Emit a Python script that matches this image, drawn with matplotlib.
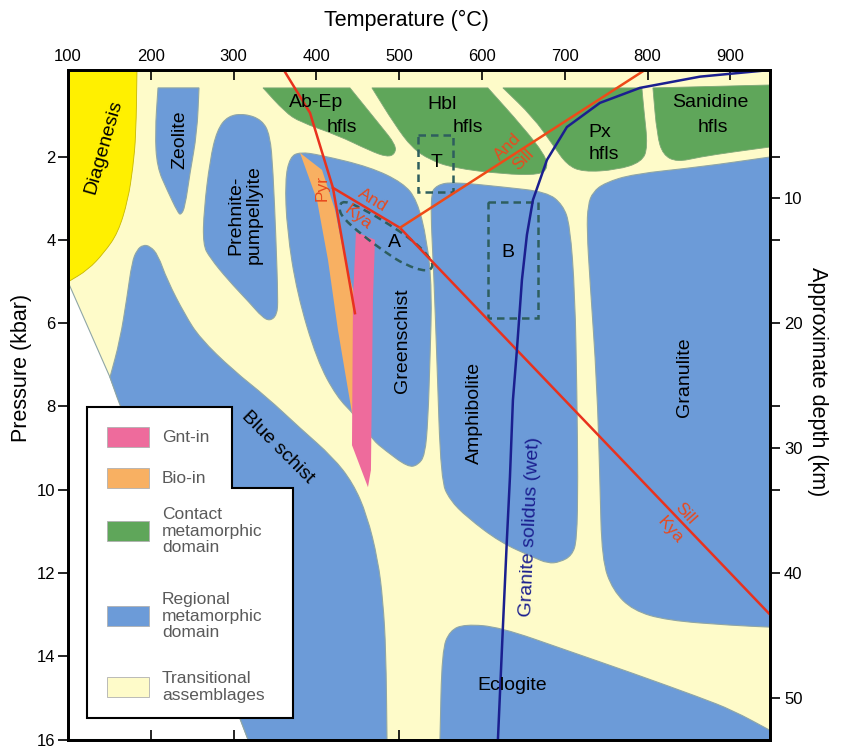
"""Metamorphic facies P-T diagram (temperature on top, pressure down, depth on right)."""
import matplotlib

matplotlib.use("Agg")
import matplotlib.pyplot as plt  # noqa: E402
from matplotlib.patches import PathPatch, Polygon, Rectangle  # noqa: E402
from matplotlib.path import Path  # noqa: E402

plt.rcParams["font.family"] = ["Liberation Sans", "DejaVu Sans"]

# ---- field outlines: temperature (degC) and pressure (kbar) ------------------
DIAG_T = [100, 183.3, 182.1, 178.5, 172.5, 160.4, 143.5, 124.2, 100]
DIAG_P = [-0.08, -0.08, 1.48, 2.25, 3.04, 3.83, 4.31, 4.72, 5.01]

OUTSIDE_T = [100, 150.7, 317.4, 100]           # white, outside the diagram
OUTSIDE_P = [5.01, 7.30, 16.0, 16.0]

ZEOL_T = [208.7, 258.2, 255.8, 247.3, 241.3, 236.5, 232.8, 219.6, 207.5, 205.1]
ZEOL_P = [0.35, 0.35, 1.43, 2.39, 3.21, 3.40, 3.35, 2.80, 2.25, 1.43]

PREH_T = [293.2, 313.8, 334.3, 344.0, 347.6, 351.2, 353.6, 352.4, 344.0, 334.3,
          319.8, 293.2, 271.5, 263.0, 264.2, 271.5, 280.0]
PREH_P = [1.02, 0.97, 1.12, 1.48, 2.32, 4.00, 5.44, 5.80, 5.95, 5.85,
          5.52, 4.96, 4.43, 4.12, 3.28, 2.08, 1.36]

BLUESCH_T = [190.6, 199.0, 208.7, 219.6, 241.3, 259.4, 299.3, 340.3, 380.2, 420.0,
             444.2, 461.1, 474.4, 480.4, 484.0, 485.3, 317.4, 159.2, 150.7, 162.8,
             171.3, 177.3, 183.3]
BLUESCH_P = [4.12, 4.15, 4.36, 4.96, 5.80, 6.36, 7.13, 7.78, 8.52, 9.22,
             9.84, 10.61, 11.69, 12.66, 13.86, 16.0, 16.0, 7.78, 7.30, 6.41,
             5.37, 4.53, 4.24]

GREENSCH_T = [368.1, 380.2, 404.3, 464.7, 504.6, 521.5, 533.6, 539.6, 537.2, 534.8,
              531.2, 522.7, 510.6, 482.8, 468.3, 446.6, 424.9, 400.7, 376.6, 364.5,
              362.1]
GREENSCH_P = [2.01, 1.89, 1.96, 2.25, 2.63, 3.04, 4.00, 5.20, 6.89, 8.33,
              9.17, 9.41, 9.46, 9.05, 8.81, 8.21, 7.78, 6.89, 5.28, 3.76,
              2.56]

AMPH_T = [537.2, 545.6, 565.0, 625.3, 678.5, 697.8, 706.3, 712.3, 714.7, 715.9,
          714.7, 708.7, 694.2, 679.7, 661.6, 621.7, 581.9, 561.3, 550.5, 545.6, 542.0]
AMPH_P = [2.92, 2.68, 2.61, 2.73, 2.85, 3.16, 3.64, 5.28, 7.69, 9.78,
          11.22, 11.58, 11.74, 11.77, 11.62, 11.26, 10.66, 10.25, 9.78, 6.89, 4.89]

GRAN_T = [728.0, 734.0, 748.5, 782.4, 863.3, 948, 948, 903.1, 823.4, 782.4,
          758.2, 744.9, 742.5, 738.9, 730.4, 726.8]
GRAN_P = [3.16, 2.85, 2.63, 2.42, 2.25, 2.01, 13.30, 13.26, 13.14, 12.90,
          12.42, 11.69, 9.77, 7.44, 4.96, 3.76]

ECLO_T = [549.3, 551.7, 561.3, 579.5, 621.7, 702.6, 782.4, 863.3, 903.1, 948, 948]
ECLO_P = [16.0, 13.86, 13.38, 13.23, 13.30, 13.86, 14.41, 14.99, 15.30, 15.78, 16.0]

ABEP_T = [335.5, 440.6, 476.8, 496.1, 494.9, 485.3, 464.7, 424.9, 380.2, 362.1]
ABEP_P = [0.35, 0.35, 1.24, 1.72, 1.94, 2.01, 1.86, 1.48, 1.17, 0.93]

HBL_T = [467.1, 607.2, 649.5, 676.1, 679.7, 670.0, 625.3, 565.0, 537.2, 515.5, 494.9]
HBL_P = [0.35, 0.35, 1.29, 1.96, 2.27, 2.44, 2.42, 2.27, 2.08, 1.79, 1.24]

PX_T = [625.3, 793.2, 795.6, 800.4, 793.2, 763.0, 722.0, 702.6, 685.7, 661.6]
PX_P = [0.35, 0.35, 0.88, 1.77, 2.13, 2.32, 2.37, 2.20, 1.72, 1.05]

SAN_T = [806.5, 948, 948, 903.1, 863.3, 835.5, 818.6, 811.4]
SAN_P = [0.35, 0.28, 1.77, 1.89, 2.01, 2.13, 1.96, 1.48]

BIO_T = [380.2, 406.8, 422.5, 434.5, 447.8, 447.8, 443.0, 426.1, 414.0, 400.7]
BIO_P = [1.91, 2.32, 3.28, 4.48, 5.45, 8.16, 8.16, 6.17, 4.48, 3.04]

GNT_T = [447.8, 470.8, 468.3, 465.9, 462.3, 443.0, 444.2]
GNT_P = [3.81, 4.00, 5.44, 9.53, 9.94, 8.93, 5.44]

# ---- reaction lines ----------------------------------------------------------
PYR_T = [359.7, 392.3, 420.0, 446.6]
PYR_P = [-0.11, 0.95, 2.75, 5.76]
AND_KYA_SILL_T = [420.0, 500.9, 948]
AND_KYA_SILL_P = [2.75, 3.71, 13.0]
AND_SILL_T = [500.9, 796.8]
AND_SILL_P = [3.71, -0.08]
SOLIDUS_T = [619.3, 625.3, 630.1, 633.8, 637.4, 642.2, 648.3, 654.3, 661.6, 678.5,
             702.6, 742.5, 790.8, 863.3, 948]
SOLIDUS_P = [16.0, 13.30, 11.21, 9.70, 7.85, 6.65, 4.96, 3.88, 3.04, 2.08,
             1.29, 0.71, 0.35, 0.08, -0.08]

# dashed outlines (boxes T, B and the ellipse A)
BOX_T_T = [522.7, 565.0]
BOX_T_P = [1.48, 2.85]
BOX_B_T = [607.2, 667.6]
BOX_B_P = [3.09, 5.88]
ELL_A_T = [432.1, 458.7, 488.9, 515.5, 534.8, 542.0, 533.6, 507.0, 482.8, 455.1, 431.7, 426.8]
ELL_A_P = [3.04, 3.28, 3.64, 4.00, 4.36, 4.63, 4.77, 4.60, 4.29, 3.88, 3.47, 3.23]

T_TICKS = [100, 200, 300, 400, 500, 600, 700, 800, 900]
P_TICKS = [2, 4, 6, 8, 10, 12, 14, 16]
DEPTH_KM = [10, 20, 30, 40, 50]

LEGEND_ITEMS = ["Gnt-in", "Bio-in", "Contact\nmetamorphic\ndomain",
                "Regional\nmetamorphic\ndomain", "Transitional\nassemblages"]

YEL_BG = "#FEFBC9"
BLUE = "#6C9BD8"
GREEN = "#5FA65A"
DIAG = "#FFF000"
PINK = "#EE6B9C"
ORANGE = "#F8B062"
RED = "#E8321E"
RED_TXT = "#E84A1E"
NAVY = "#1B1F8F"
DASH = "#2E5E5E"
EDGE = "#8FA6A6"


def field(ax, t, p, sharp=(), **kw):
    """Closed field outline drawn as a quadratic spline through the edge midpoints;
    vertices listed in `sharp` stay as hard corners."""
    pts = list(zip(t, p))
    n = len(pts)
    mids = [((pts[i][0] + pts[(i + 1) % n][0]) / 2,
             (pts[i][1] + pts[(i + 1) % n][1]) / 2) for i in range(n)]
    verts, codes = [mids[-1]], [Path.MOVETO]
    for i in range(n):
        verts += [pts[i], mids[i]]
        code = Path.LINETO if i in sharp else Path.CURVE3
        codes += [code, code]
    verts.append(mids[-1])
    codes.append(Path.CLOSEPOLY)
    ax.add_patch(PathPatch(Path(verts, codes), **kw))


fig = plt.figure(figsize=(8.45, 7.47), dpi=100)
ax = fig.add_axes([0.0805, 0.0100, 0.8308, 0.8963])
ax.set_xlim(100, 948)
ax.set_ylim(16, -0.08)
ax.set_facecolor(YEL_BG)

blue_kw = dict(fc=BLUE, ec=EDGE, lw=0.8, zorder=2)
green_kw = dict(fc=GREEN, ec="#7FA878", lw=0.6, zorder=2)

ax.fill(OUTSIDE_T, OUTSIDE_P, color="white", ec=EDGE, lw=0.8, zorder=1)
field(ax, DIAG_T, DIAG_P, sharp=(0, 1, 8), fc=DIAG, ec="#C8B800", lw=0.6, zorder=2)
field(ax, ZEOL_T, ZEOL_P, sharp=(0, 1), **blue_kw)
field(ax, PREH_T, PREH_P, **blue_kw)
field(ax, BLUESCH_T, BLUESCH_P, sharp=(15, 16, 17, 18), **blue_kw)
field(ax, GREENSCH_T, GREENSCH_P, **blue_kw)
field(ax, AMPH_T, AMPH_P, **blue_kw)
field(ax, GRAN_T, GRAN_P, sharp=(5, 6), **blue_kw)
field(ax, ECLO_T, ECLO_P, sharp=(0, 9, 10), **blue_kw)
field(ax, ABEP_T, ABEP_P, sharp=(0, 1), **green_kw)
field(ax, HBL_T, HBL_P, sharp=(0, 1), **green_kw)
field(ax, PX_T, PX_P, sharp=(0, 1), **green_kw)
field(ax, SAN_T, SAN_P, sharp=(0, 1, 2), **green_kw)
ax.fill(BIO_T, BIO_P, color=ORANGE, lw=0, zorder=3)
ax.fill(GNT_T, GNT_P, color=PINK, lw=0, zorder=3)

# dashed boxes and the ellipse around A
for bt, bp in [(BOX_T_T, BOX_T_P), (BOX_B_T, BOX_B_P)]:
    ax.add_patch(Rectangle((bt[0], bp[0]), bt[1] - bt[0], bp[1] - bp[0], fill=False,
                           ec=DASH, lw=1.8, ls=(0, (3, 2)), zorder=4))
field(ax, ELL_A_T, ELL_A_P, fill=False, ec=DASH, lw=1.8, ls=(0, (3, 2)), zorder=4)

# reaction curves
ax.plot(PYR_T, PYR_P, color=RED, lw=1.8, zorder=5)
ax.plot(AND_KYA_SILL_T, AND_KYA_SILL_P, color=RED, lw=1.8, zorder=5)
ax.plot(AND_SILL_T, AND_SILL_P, color="#EE4A18", lw=1.8, zorder=5)
ax.plot(SOLIDUS_T, SOLIDUS_P, color=NAVY, lw=1.8, zorder=5)

# field labels
lab = dict(fontsize=14, color="black", ha="center", va="center", zorder=6)
ax.text(143.5, 1.77, "Diagenesis", rotation=74, **lab)
ax.text(235.3, 1.60, "Zeolite", rotation=90, **lab)
ax.text(313.8, 3.40, "Prehnite-\npumpellyite", rotation=90, linespacing=1.05, **lab)
ax.text(399.5, 0.71, "Ab-Ep", **lab)
ax.text(430.9, 1.29, "hfls", **lab)
ax.text(551.7, 0.76, "Hbl", **lab)
ax.text(583.1, 1.31, "hfls", **lab)
ax.text(742.5, 1.43, "Px", **lab)
ax.text(747.3, 1.96, "hfls", **lab)
ax.text(875.4, 0.71, "Sanidine", **lab)
ax.text(879.0, 1.29, "hfls", **lab)
ax.text(545.6, 2.13, "T", **lab)
ax.text(631.4, 4.31, "B", **lab)
ax.text(494.9, 4.07, "A", **lab)
ax.text(504.6, 6.41, "Greenschist", rotation=90, **lab)
ax.text(591.5, 8.16, "Amphibolite", rotation=90, **lab)
ax.text(845.2, 7.30, "Granulite", rotation=90, **lab)
ax.text(636.2, 14.70, "Eclogite", **lab)
ax.text(353.6, 8.98, "Blue schist", rotation=-45, **lab)
ax.text(658.5, 10.9, "Granite solidus (wet)", rotation=87.5, fontsize=14,
        color=NAVY, ha="center", va="center", zorder=6)

rlab = dict(fontsize=12.5, color=RED_TXT, ha="center", va="center", zorder=6)
ax.text(406.8, 2.75, "Pyr", rotation=90, **rlab)
ax.text(468.3, 3.04, "And", rotation=-31, **rlab)
ax.text(450.2, 3.47, "Kya", rotation=-38, **rlab)
ax.text(631.4, 1.77, "And", rotation=45, **rlab)
ax.text(649.5, 2.08, "Sill", rotation=45, **rlab)
ax.text(845.2, 10.57, "Sill", rotation=-48, **rlab)
ax.text(827.1, 10.97, "Kya", rotation=-48, **rlab)

# axes styling
ax.set_xticks(T_TICKS)
ax.set_yticks(P_TICKS)
ax.tick_params(axis="x", direction="in", top=True, bottom=True, labeltop=True,
               labelbottom=False, length=7, width=1.2, labelsize=12, pad=4)
ax.tick_params(axis="y", direction="out", left=True, right=False, length=7,
               width=1.2, labelsize=12, pad=2)
for s in ax.spines.values():
    s.set_linewidth(2)

ax2 = ax.twinx()
ax2.set_ylim(16, -0.08)
ax2.set_yticks([d * 0.3 for d in DEPTH_KM])
ax2.set_yticklabels([str(d) for d in DEPTH_KM])
ax2.set_yticks([2, 4, 8, 10], minor=True)
ax2.tick_params(axis="y", which="both", direction="out", length=7, width=1.2,
                labelsize=12, pad=3)
for s in ax2.spines.values():
    s.set_linewidth(2)

fig.text(406 / 845, 1 - 20 / 747, "Temperature (°C)", fontsize=15.5,
         ha="center", va="center")
fig.text(22 / 845, 1 - 368 / 747, "Pressure (kbar)", fontsize=15.5,
         rotation=90, ha="center", va="center")
fig.text(818 / 845, 1 - 382 / 747, "Approximate depth (km)", fontsize=15.5,
         rotation=-90, ha="center", va="center")

# legend box with its notch, in axes fractions
box = Polygon([(0.027, 0.4967), (0.2336, 0.4967), (0.2336, 0.3757), (0.3205, 0.3757),
               (0.3205, 0.0321), (0.027, 0.0321)], closed=True, transform=ax.transAxes,
              fc="white", ec="black", lw=1.5, zorder=10)
ax.add_patch(box)
sw_colors = [PINK, ORANGE, GREEN, BLUE, YEL_BG]
sw_y = [0.4518, 0.3906, 0.3114, 0.1845, 0.0784]
for col, yc, txt in zip(sw_colors, sw_y, LEGEND_ITEMS):
    ax.add_patch(Rectangle((0.0556, yc - 0.015), 0.0598, 0.030, transform=ax.transAxes,
                           fc=col, ec="#b0b0b0", lw=0.6, zorder=11))
    ax.text(0.1339, yc, txt, transform=ax.transAxes, fontsize=12.5, color="#5a5a5a",
            ha="left", va="center", linespacing=1.15, zorder=11)

fig.savefig("out.png", dpi=100, facecolor="white")
